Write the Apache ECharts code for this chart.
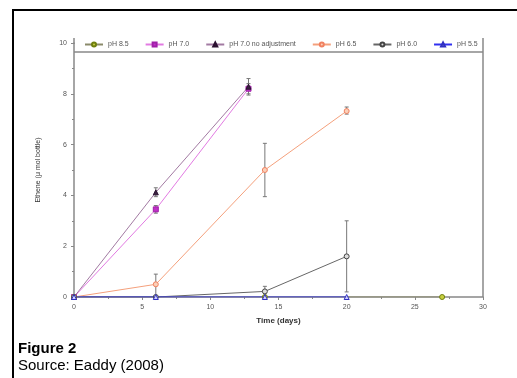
<!DOCTYPE html>
<html>
<head>
<meta charset="utf-8">
<script src="https://cdn.jsdelivr.net/npm/echarts@6/dist/echarts.min.js"></script>
<style>
html, body { margin: 0; padding: 0; background: #fff; }
#container { width: 517px; height: 378px; }
</style>
</head>
<body>
<div id="container"></div>
<script>
// data: [day, ethene]
var ph85 = [[0, 0], [14, 0], [27, 0]];
var ph70 = [[0, 0], [6, 3.45], [12.8, 8.2]];
var ph70noadj = [[0, 0], [6, 4.12], [12.8, 8.28]];
var ph65 = [[0, 0], [6, 0.5], [14, 5.0], [20, 7.32]];
var ph60 = [[0, 0], [6, 0], [14, 0.22], [20, 1.6]];
var ph55 = [[0, 0], [6, 0], [14, 0], [20, 0]];

// error bars: [day, low, high]
var err70 = [[6, 3.3, 3.6], [12.8, 8.0, 8.4]];
var err70noadj = [[6, 3.95, 4.3], [12.8, 7.95, 8.6]];
var err65 = [[6, 0, 0.9], [14, 3.95, 6.05], [20, 7.2, 7.48]];
var err60 = [[14, 0.05, 0.42], [20, 0.2, 3.0]];

var seriesNames = ['pH 8.5', 'pH 7.0', 'pH 7.0 no adjustment', 'pH 6.5', 'pH 6.0', 'pH 5.5'];

var dom = document.getElementById("container");
var myChart = echarts.init(dom);

function errorBars(data, color) {
    return {
        type: 'custom',
        silent: true,
        z: 1,
        data: data,
        renderItem: function (params, api) {
            var x = api.value(0);
            var lo = api.coord([x, api.value(1)]);
            var hi = api.coord([x, api.value(2)]);
            var cap = 2;
            return {
                type: 'group',
                children: [
                    {type: 'line', shape: {x1: lo[0], y1: lo[1], x2: hi[0], y2: hi[1]}, style: {stroke: color, lineWidth: 1}},
                    {type: 'line', shape: {x1: lo[0] - cap, y1: lo[1], x2: lo[0] + cap, y2: lo[1]}, style: {stroke: color, lineWidth: 1}},
                    {type: 'line', shape: {x1: hi[0] - cap, y1: hi[1], x2: hi[0] + cap, y2: hi[1]}, style: {stroke: color, lineWidth: 1}}
                ]
            };
        }
    };
}

function lineSeries(name, data, lineColor, markColor, symbol, fill) {
    return {
        name: name,
        type: 'line',
        data: data,
        symbol: symbol,
        symbolSize: 5,
        z: 3,
        lineStyle: {color: lineColor, width: 1},
        itemStyle: {color: fill, borderColor: markColor, borderWidth: 1},
        emphasis: {disabled: true}
    };
}

var txt = '#555';
var option = {
    animation: false,
    textStyle: {fontFamily: 'Liberation Sans, Arial, sans-serif'},
    legend: {
        data: seriesNames,
        left: 84,
        top: 41,
        itemWidth: 18,
        itemHeight: 5,
        itemGap: 16,
        textStyle: {fontSize: 7, color: txt},
        padding: 0
    },
    grid: {
        left: 74,
        right: 34,
        top: 43,
        bottom: 81
    },
    xAxis: {
        type: 'value',
        min: 0,
        max: 30,
        interval: 5,
        name: 'Time (days)',
        nameLocation: 'middle',
        nameGap: 20,
        nameTextStyle: {fontSize: 8, fontWeight: 'bold', color: '#333'},
        axisLine: {onZero: false, lineStyle: {color: '#888', width: 1.5}},
        axisTick: {inside: false, length: 3, lineStyle: {color: '#888'}},
        minorTick: {show: true, splitNumber: 2, length: 2, lineStyle: {color: '#888'}},
        axisLabel: {fontSize: 7, color: txt, margin: 7},
        splitLine: {show: false}
    },
    yAxis: {
        type: 'value',
        min: 0,
        max: 10,
        interval: 2,
        name: 'Ethene (\u03bc mol bottle)',
        nameLocation: 'middle',
        nameGap: 32,
        nameTextStyle: {fontSize: 7, color: '#333'},
        axisLine: {show: true, lineStyle: {color: '#888', width: 1.5}},
        axisTick: {show: true, length: 3, lineStyle: {color: '#888'}},
        minorTick: {show: true, splitNumber: 2, length: 2, lineStyle: {color: '#888'}},
        axisLabel: {fontSize: 7, color: txt, margin: 7},
        splitLine: {show: false}
    },
    series: [
        lineSeries('pH 8.5', ph85, '#8a8a6a', '#6f7f10', 'circle', '#c8d040'),
        lineSeries('pH 7.0', ph70, '#e27ae2', '#a020a8', 'rect', '#c030c8'),
        lineSeries('pH 7.0 no adjustment', ph70noadj, '#a27aa2', '#2a1030', 'triangle', '#3a2040'),
        lineSeries('pH 6.5', ph65, '#f4a07c', '#f08060', 'circle', '#fbd0b8'),
        lineSeries('pH 6.0', ph60, '#666666', '#444444', 'circle', '#dddddd'),
        lineSeries('pH 5.5', ph55, '#3030f0', '#3030c0', 'triangle', '#d0d0ff'),
        errorBars(err70, '#777'),
        errorBars(err70noadj, '#777'),
        errorBars(err65, '#777'),
        errorBars(err60, '#777')
    ],
    graphic: [
        // outer frame: top and left rules
        {type: 'line', shape: {x1: 12, y1: 10, x2: 517, y2: 10}, style: {stroke: '#000', lineWidth: 2}},
        {type: 'line', shape: {x1: 13, y1: 9, x2: 13, y2: 378}, style: {stroke: '#000', lineWidth: 2}},
        // legend box and right side of plot frame
        {type: 'line', shape: {x1: 74, y1: 52, x2: 483, y2: 52}, style: {stroke: '#888', lineWidth: 1.5}},
        {type: 'line', shape: {x1: 483, y1: 38, x2: 483, y2: 297}, style: {stroke: '#888', lineWidth: 1.5}},
        {type: 'line', shape: {x1: 74, y1: 38, x2: 74, y2: 44}, style: {stroke: '#888', lineWidth: 1.5}},
        {type: 'text', left: 18, top: 341, style: {text: 'Figure 2', fontSize: 15, fontWeight: 'bold', fill: '#000', fontFamily: 'Liberation Sans, Arial, sans-serif'}},
        {type: 'text', left: 18, top: 358, style: {text: 'Source: Eaddy (2008)', fontSize: 15, fill: '#000', fontFamily: 'Liberation Sans, Arial, sans-serif'}}
    ]
};

if (option && typeof option === 'object') {
    myChart.setOption(option);
}
</script>
</body>
</html>
